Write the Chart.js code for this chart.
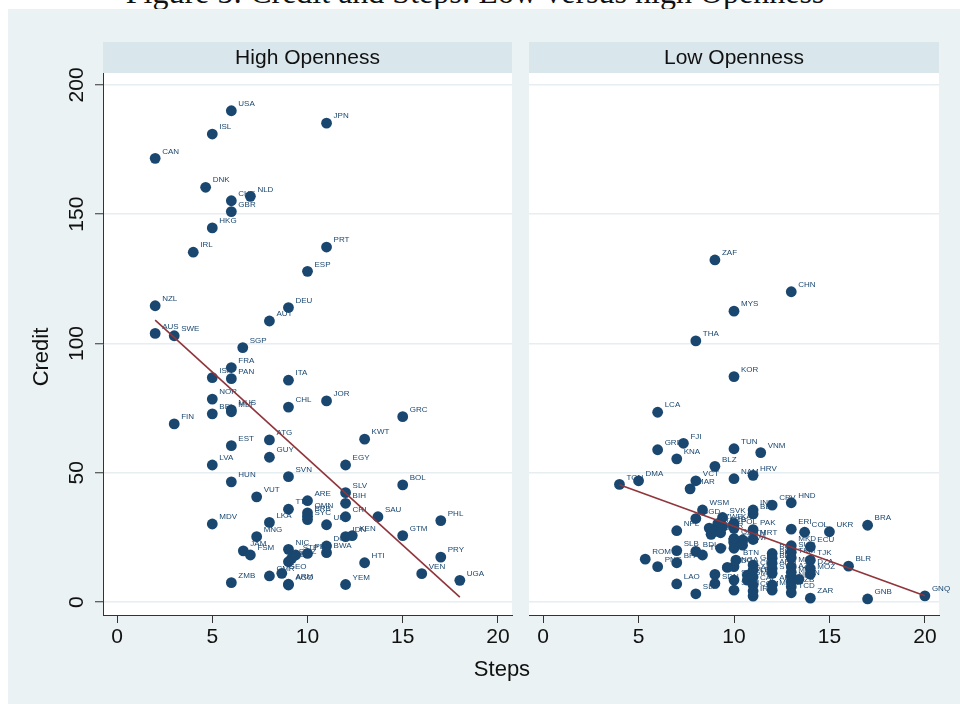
<!DOCTYPE html>
<html><head><meta charset="utf-8">
<script src="https://cdn.jsdelivr.net/npm/chart.js@4.4.1/dist/chart.umd.min.js"></script>
<style>
html,body{margin:0;padding:0;background:#fff;width:960px;height:704px;overflow:hidden;position:relative;font-family:"Liberation Sans",Arial,sans-serif}
#title{position:absolute;left:0;width:950px;top:-27px;line-height:38px;text-align:center;font-family:"Liberation Serif",serif;font-size:32px;color:#111;white-space:nowrap}
#bg{position:absolute;left:8px;top:9px;width:952px;height:695px;background:#eaf2f3}
#c1{position:absolute;left:0;top:0}
#c2{position:absolute;left:520px;top:0}
#xtitle{position:absolute;left:402px;width:200px;top:656px;text-align:center;font-size:22px;color:#111}
</style></head>
<body>
<div id="title">Figure 5: Credit and Steps: Low versus high Openness</div>
<div id="bg"></div>
<canvas id="c1" width="520" height="704"></canvas>
<canvas id="c2" width="440" height="704"></canvas>
<div id="xtitle">Steps</div>
<script>
const panelTitles = ["High Openness", "Low Openness"];
const xTicks = [0, 5, 10, 15, 20];
const yTicks = [0, 50, 100, 150, 200];
const yTitle = "Credit";

const highCodes = ["USA","ISL","JPN","CAN","DNK","NLD","CHE","GBR","HKG","PRT","IRL","ESP","NZL","DEU","AUT","AUS","SWE","SGP","FRA","ISR","PAN","ITA","NOR","JOR","CHL","MUS","MLT","BEL","GRC","FIN","KWT","ATG","EST","GUY","LVA","EGY","SVN","HUN","BOL","SLV","VUT","ARE","BIH","TTO","OMN","BRB","SYC","CRI","SAU","PHL","LKA","MDV","URY","KEN","IDN","GTM","MNG","DOM","NIC","JAM","BWA","PER","FSM","STP","PRY","SWZ","LBN","HTI","GEO","VEN","CMR","UGA","ZMB","ARM","AGO","YEM"];
const highSteps = [6,5,11,2,4.65,7,6,6,5,11,4,10,2,9,8,2,3,6.6,6,5,6,9,5,11,9,6,6,5,15,3,13,8,6,8,5,12,9,6,15,12,7.33,10,12,9,10,10,10,12,13.7,17,8,5,11,12.35,12,15,7.33,11,9,6.63,11,10,7,9.38,17,9.17,9,13,8.65,16,8,18,6,9,9,12];
const highCredit = [190,181,185.2,171.6,160.4,156.9,155.2,151,144.7,137.3,135.3,127.9,114.6,113.9,108.7,103.9,103,98.4,90.7,86.8,86.4,85.8,78.5,77.8,75.4,74.3,73.6,72.8,71.7,68.9,63,62.7,60.5,56,53,53,48.5,46.5,45.3,42.3,40.7,39.2,38.2,35.9,34.5,33.2,31.9,33,33,31.5,30.8,30.2,29.9,25.7,25.3,25.7,25.3,21.7,20.4,19.8,19.1,18.8,18.2,18.2,17.4,16.9,15.6,15.2,11.1,11,10.1,8.4,7.5,6.9,6.6,6.8];

const lowCodes = ["ZAF","CHN","MYS","THA","KOR","LCA","FJI","GRD","TUN","VNM","KNA","BLZ","HRV","NAM","DMA","VCT","TON","MAR","HND","CPV","IND","BEN","WSM","SVK","BGD","ZWE","KAZ","POL","PAK","NPL","MDA","ALB","SRB","KGZ","LBR","MRT","GHA","TZA","KHM","ETH","MWI","RWA","SLB","BDI","TGO","ROM","PNG","BFA","BTN","NGA","MDG","LAO","LSO","SLE","SDN","SEN","SOM","GAB","GMB","GIN","CIV","LBY","CAF","COM","IRQ","BGR","BHS","BRN","ARG","SYR","AFG","MMR","SUR","TKM","MLI","AZE","MEX","NER","UZB","TCD","IRN","ERI","COL","UKR","BRA","MKD","ECU","TJK","BLR","DZA","MOZ","ZAR","GNB","GNQ"];
const lowSteps = [9,13,10,8,10,6,7.35,6,10,11.4,7,9,11,10,5,8,4,7.7,13,12,11,11,8.35,9.4,8,9.15,10,10,11,7,8.7,9,9.4,8.8,9.3,11,10,10,10,10.45,10.45,9.3,7,8,8.35,5.35,6,7,10.1,10,9.65,7,9,8,9,10,10,10.7,10.7,11,11,11,11,11,11,12,12,12,12,12,12,12,13,13,13,13,13,13,13,13,13.4,13,13.7,15,17,13,14,14,16,14,14,14,17,20];
const lowCredit = [132.3,120,112.5,101,87.2,73.4,61.4,58.9,59.3,57.8,55.4,52.5,49,47.7,46.9,46.9,45.5,43.8,38.4,37.5,35.6,34.1,35.6,32.7,32.3,30.3,30.4,28.5,28,27.6,28.6,27.3,29.2,26.2,26.8,24.2,24.6,22.7,20.8,24,22,20.8,19.9,19.6,18.2,16.6,13.7,15.2,16.2,13.7,13.4,7,10.7,3.2,7.2,8.5,4.6,10.4,8.5,14.3,12.3,9.7,6.6,4.3,2.3,18.8,16.9,15,13,11.1,6.6,4.6,19.3,17.1,13.7,11.5,9.8,7.9,5.9,3.6,8.8,28.2,27,27.2,29.7,21.8,21.4,16.2,13.9,13,10.8,1.5,1.2,2.4];

const highFitSteps = [2, 18];
const highFitCredit = [109, 1.9];
const lowFitSteps = [4, 20];
const lowFitCredit = [45.4, 2.4];

const NAVY = '#1a476f', MAROON = '#90353b', INK = '#111';

function pts(xs, ys){ return xs.map((x,i)=>({x:x, y:ys[i]})); }

const panelPlugin = {
  id:'panel',
  beforeDraw(chart, args, opts){
    const {ctx, chartArea:a} = chart;
    ctx.save();
    ctx.fillStyle = '#ffffff';
    ctx.fillRect(a.left, a.top, a.right-a.left, a.bottom-a.top);
    ctx.fillStyle = '#d9e6ec';
    ctx.fillRect(a.left, 42, a.right-a.left, a.top-42);
    ctx.fillStyle = INK;
    ctx.font = '21px "Liberation Sans", Arial, sans-serif';
    ctx.textAlign = 'center'; ctx.textBaseline = 'middle';
    ctx.fillText(opts.title, (a.left+a.right)/2, 58);
    ctx.restore();
  },
  beforeDatasetsDraw(chart, args, opts){
    const {ctx} = chart;
    const meta = chart.getDatasetMeta(1);
    ctx.save();
    ctx.fillStyle = NAVY;
    ctx.font = '8px "Liberation Sans", Arial, sans-serif';
    ctx.textAlign = 'left'; ctx.textBaseline = 'middle';
    meta.data.forEach((el,i)=>{ ctx.fillText(opts.codes[i], el.x+7, el.y-7); });
    ctx.restore();
  },
  afterDraw(chart, args, opts){
    if(!opts.yLabels) return;
    const {ctx} = chart; const ys = chart.scales.y;
    ctx.save();
    ctx.fillStyle = INK;
    ctx.font = '21px "Liberation Sans", Arial, sans-serif';
    ctx.textAlign = 'center'; ctx.textBaseline = 'middle';
    yTicks.forEach(v=>{
      const y = ys.getPixelForValue(v);
      ctx.save(); ctx.translate(77, y); ctx.rotate(-Math.PI/2); ctx.fillText(String(v),0,0); ctx.restore();
    });
    ctx.font = '22px "Liberation Sans", Arial, sans-serif';
    ctx.save(); ctx.translate(42, 357); ctx.rotate(-Math.PI/2); ctx.fillText(yTitle,0,0); ctx.restore();
    ctx.restore();
  }
};

function makeChart(id, title, codes, xs, ys, fx, fy, isLeft){
  return new Chart(document.getElementById(id), {
    type:'scatter',
    data:{ datasets:[
      { type:'line', data:pts(fx,fy), borderColor:MAROON, borderWidth:1.6, pointRadius:0, fill:false, order:0, clip:false },
      { type:'scatter', data:pts(xs,ys), backgroundColor:NAVY, borderWidth:0, pointRadius:5.4, pointHoverRadius:5.4, order:1, clip:false }
    ]},
    options:{
      responsive:false, animation:false, events:[],
      layout:{ padding:{ top:73, right: isLeft?8:21, left:0, bottom:0 } },
      plugins:{ legend:{display:false}, tooltip:{enabled:false},
        panel:{ title:title, codes:codes, yLabels:isLeft } },
      scales:{
        x:{ type:'linear', min:-0.74, max:20.74,
          afterBuildTicks(s){ s.ticks = xTicks.map(v=>({value:v})); },
          afterFit(s){ s.height = 89; },
          grid:{ drawOnChartArea:false, drawTicks:true, tickLength:8, tickColor:'#333', tickWidth:1 },
          border:{ display:true, color:'#333', width:1 },
          ticks:{ color:INK, font:{ size:21, family:'"Liberation Sans", Arial, sans-serif' }, padding:2, maxRotation:0, autoSkip:false }
        },
        y:{ type:'linear', min:-5, max:204.6,
          afterBuildTicks(s){ s.ticks = yTicks.map(v=>({value:v})); },
          afterFit(s){ s.width = isLeft?103:9; },
          grid:{ color:'#e6eef2', lineWidth:1.5, drawTicks:isLeft, tickLength:8, tickColor:'#333', tickWidth:1 },
          border:{ display:isLeft, color:'#333', width:1 },
          ticks:{ display:false }
        }
      }
    },
    plugins:[panelPlugin]
  });
}

makeChart('c1', panelTitles[0], highCodes, highSteps, highCredit, highFitSteps, highFitCredit, true);
makeChart('c2', panelTitles[1], lowCodes, lowSteps, lowCredit, lowFitSteps, lowFitCredit, false);
</script>
</body></html>
